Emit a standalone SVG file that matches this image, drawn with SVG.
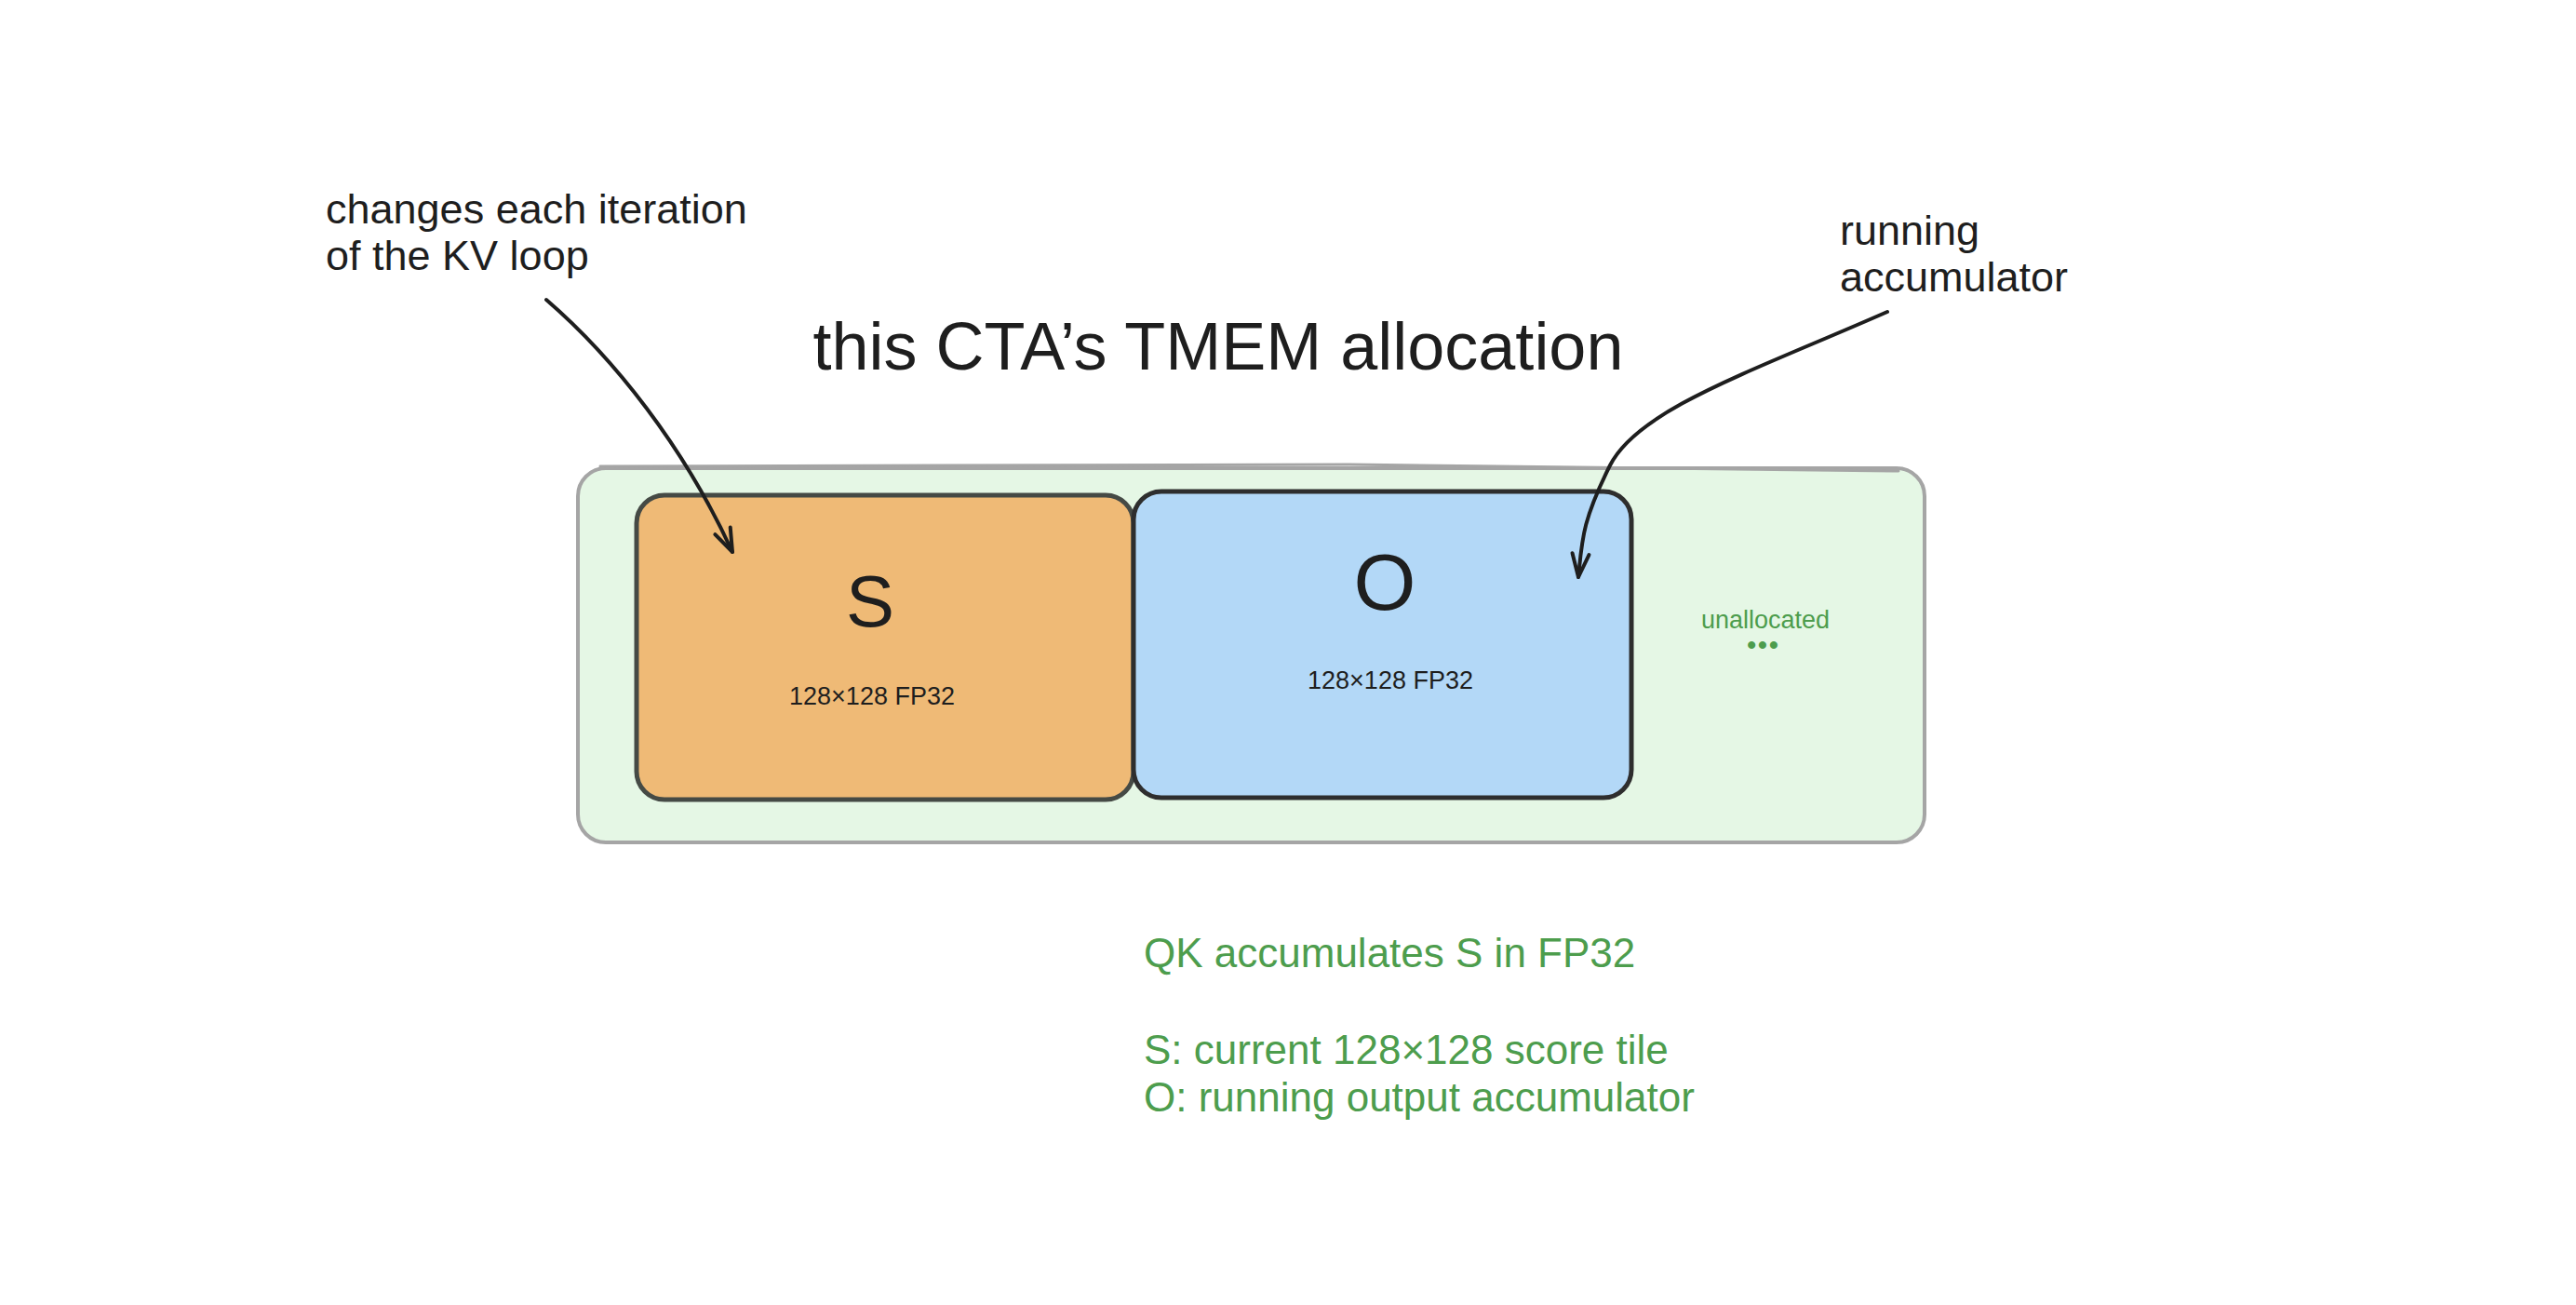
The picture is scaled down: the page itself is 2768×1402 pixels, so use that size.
<svg xmlns="http://www.w3.org/2000/svg" width="2768" height="1402" viewBox="0 0 2768 1402">
  <defs>
    <marker id="ah" markerUnits="userSpaceOnUse" markerWidth="40" markerHeight="40" viewBox="-30 -15 40 30" refX="0" refY="0" orient="auto">
      <path d="M-25,-9 L0,0 L-25,9" fill="none" stroke="#1e1e1e" stroke-width="4" stroke-linecap="round" stroke-linejoin="round"/>
    </marker>
  </defs>
  <style>
    text { font-family: "Liberation Sans", Arial, sans-serif; }
    .dark { fill: #1e1e1e; }
    .green { fill: #4d9d4d; }
    .ann { font-size: 45px; }
    .legend { font-size: 44px; }
    .cap { font-size: 27px; text-anchor: middle; }
    .arrow { fill: none; stroke: #1e1e1e; stroke-width: 4; stroke-linecap: round; marker-end: url(#ah); }
  </style>
  <rect width="2768" height="1402" fill="#ffffff"/>

  <g id="container">
    <rect x="621" y="503" width="1447" height="402" rx="30" fill="#e5f7e5" stroke="#a5a5a5" stroke-width="4"/>
    <path d="M645,501 L1450,499 L2040,506" fill="none" stroke="#a5a5a5" stroke-width="3" stroke-linecap="round"/>
    <text class="cap green" x="1897" y="675">unallocated</text>
    <text class="green" x="1895" y="702" font-size="28" font-weight="bold" text-anchor="middle" letter-spacing="2">•••</text>
  </g>

  <g id="node-S">
    <rect x="684" y="532" width="534" height="327" rx="30" fill="#efba76" stroke="#454a45" stroke-width="5"/>
    <text class="dark" x="935" y="673" font-size="78" text-anchor="middle">S</text>
    <text class="cap dark" x="937" y="757">128×128 FP32</text>
  </g>

  <g id="node-O">
    <rect x="1218" y="528" width="535" height="329" rx="30" fill="#b3d8f7" stroke="#2e2e2e" stroke-width="5"/>
    <text class="dark" x="1488" y="655" font-size="86" text-anchor="middle">O</text>
    <text class="cap dark" x="1494" y="740">128×128 FP32</text>
  </g>

  <g id="title">
    <text class="dark" x="1309" y="397" font-size="72" text-anchor="middle">this CTA’s TMEM allocation</text>
  </g>

  <g id="note-S">
    <text class="dark ann" x="350" y="240">changes each iteration</text>
    <text class="dark ann" x="350" y="290">of the KV loop</text>
  </g>

  <g id="note-O">
    <text class="dark ann" x="1977" y="263">running</text>
    <text class="dark ann" x="1977" y="313">accumulator</text>
  </g>

  <g id="legend">
    <text class="green legend" x="1229" y="1039">QK accumulates S in FP32</text>
    <text class="green legend" x="1229" y="1143">S: current 128×128 score tile</text>
    <text class="green legend" x="1229" y="1194">O: running output accumulator</text>
  </g>

  <g id="connectors">
    <path class="arrow" d="M587,322 C660,385 735,480 787,593"/>
    <path class="arrow" d="M2028,335 C1880,400 1760,440 1730,500 S1700,580 1696,620"/>
  </g>
</svg>
